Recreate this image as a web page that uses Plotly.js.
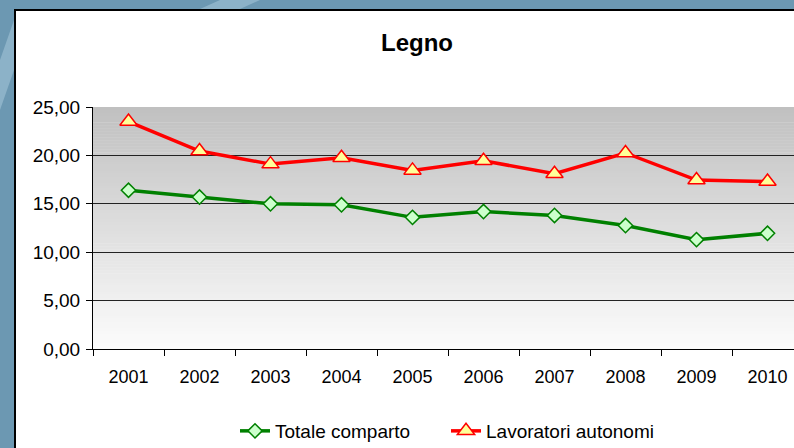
<!DOCTYPE html>
<html>
<head>
<meta charset="utf-8">
<script src="https://cdn.plot.ly/plotly-3.0.1.min.js"></script>
<style>html,body{margin:0;padding:0;background:#6c98b2;}</style>
</head>
<body>
<div id="chart" style="width:794px;height:448px;"></div>
<script>
const years = ['2001','2002','2003','2004','2005','2006','2007','2008','2009','2010'];
const totaleComparto = [16.4, 15.7, 15.0, 14.9, 13.6, 14.2, 13.8, 12.75, 11.3, 11.95];
const lavoratoriAutonomi = [23.5, 20.45, 19.1, 19.75, 18.45, 19.45, 18.1, 20.25, 17.45, 17.3];
const seriesNames = ['Totale comparto', 'Lavoratori autonomi'];
const chartTitle = 'Legno';

const W = 794, H = 448;
const mL = 93, mR = 0, mT = 107, mB = 99;
const pw = W - mL - mR, ph = H - mT - mB;
const px = v => (v - mL) / pw;           // pixel x -> paper x
const py = v => (H - mB - v) / ph;       // pixel y -> paper y

const shapes = [];
// light streaks on blue background
shapes.push({type:'path', xref:'paper', yref:'paper', layer:'below',
  path:`M ${px(0)},${py(60)} L ${px(14)},${py(20)} L ${px(14)},${py(70)} L ${px(0)},${py(110)} Z`,
  fillcolor:'rgba(200,225,240,0.35)', line:{width:0}});
shapes.push({type:'path', xref:'paper', yref:'paper', layer:'below',
  path:`M ${px(220)},${py(0)} L ${px(260)},${py(0)} L ${px(240)},${py(9)} L ${px(200)},${py(9)} Z`,
  fillcolor:'rgba(200,225,240,0.35)', line:{width:0}});
// white chart area with black border
shapes.push({type:'rect', xref:'paper', yref:'paper', layer:'below',
  x0: px(15), x1: px(830), y0: py(470), y1: py(10),
  fillcolor:'#ffffff', line:{color:'#000000', width:2}});
// vertical gradient in plot area (grey -> white)
const N = 80;
for (let i = 0; i < N; i++) {
  const t0 = i / N, t1 = (i + 1) / N;
  const t = (t0 + t1) / 2;
  const c = Math.round(192 + (252 - 192) * t);
  shapes.push({type:'rect', xref:'paper', yref:'paper', layer:'below',
    x0: 0, x1: 1, y0: 1 - t1 - 0.002, y1: 1 - t0,
    fillcolor:`rgb(${c},${c},${c})`, line:{width:0}});
}

const traces = [
  {x: years, y: totaleComparto, name: seriesNames[0], type:'scatter', mode:'lines+markers',
   line:{color:'#008000', width:3.5},
   marker:{symbol:'diamond', size:11, color:'#ccffcc', line:{color:'#008000', width:1.5}}},
  {x: years, y: lavoratoriAutonomi, name: seriesNames[1], type:'scatter', mode:'lines+markers',
   line:{color:'#ff0000', width:3.5},
   marker:{symbol:'triangle-up', size:15, color:'#ffff99', line:{color:'#ff0000', width:1.5}}}
];

const layout = {
  width: W, height: H, autosize:false,
  margin:{l:mL, r:mR, t:mT, b:mB, pad:0},
  paper_bgcolor:'#6c98b2',
  plot_bgcolor:'rgba(0,0,0,0)',
  separators: ',.',
  font:{family:'"Liberation Sans", Arial, sans-serif', size:18, color:'#000'},
  title:{text:'<b>' + chartTitle + '</b>', font:{size:24, color:'#000'},
    xref:'paper', x: px(417), xanchor:'center',
    yref:'container', y: 1 - 43/H, yanchor:'middle'},
  xaxis:{type:'category', range:[-0.5, -0.5 + (W - mL)/71], tickson:'boundaries',
    ticks:'outside', ticklen:6, tickcolor:'#000', showline:true, linecolor:'#000', linewidth:1,
    showgrid:false, zeroline:false, tickfont:{size:18}, ticklabelstandoff:11, fixedrange:true},
  yaxis:{range:[0,25], dtick:5, tick0:0, tickformat:'.2f', ticks:'outside', ticklen:6,
    tickcolor:'#000', showline:true, linecolor:'#000', linewidth:1,
    showgrid:true, gridcolor:'#222', gridwidth:1, zeroline:false,
    tickfont:{size:19}, ticklabelstandoff:2, fixedrange:true},
  showlegend:true,
  legend:{orientation:'h', xref:'paper', x: px(235), xanchor:'left',
    yref:'container', y: 1 - 431/H, yanchor:'middle',
    entrywidth:166, entrywidthmode:'pixels',
    bgcolor:'rgba(0,0,0,0)', font:{size:19}},
  shapes: shapes
};

Plotly.newPlot('chart', traces, layout, {displayModeBar:false, staticPlot:true});
</script>
</body>
</html>
